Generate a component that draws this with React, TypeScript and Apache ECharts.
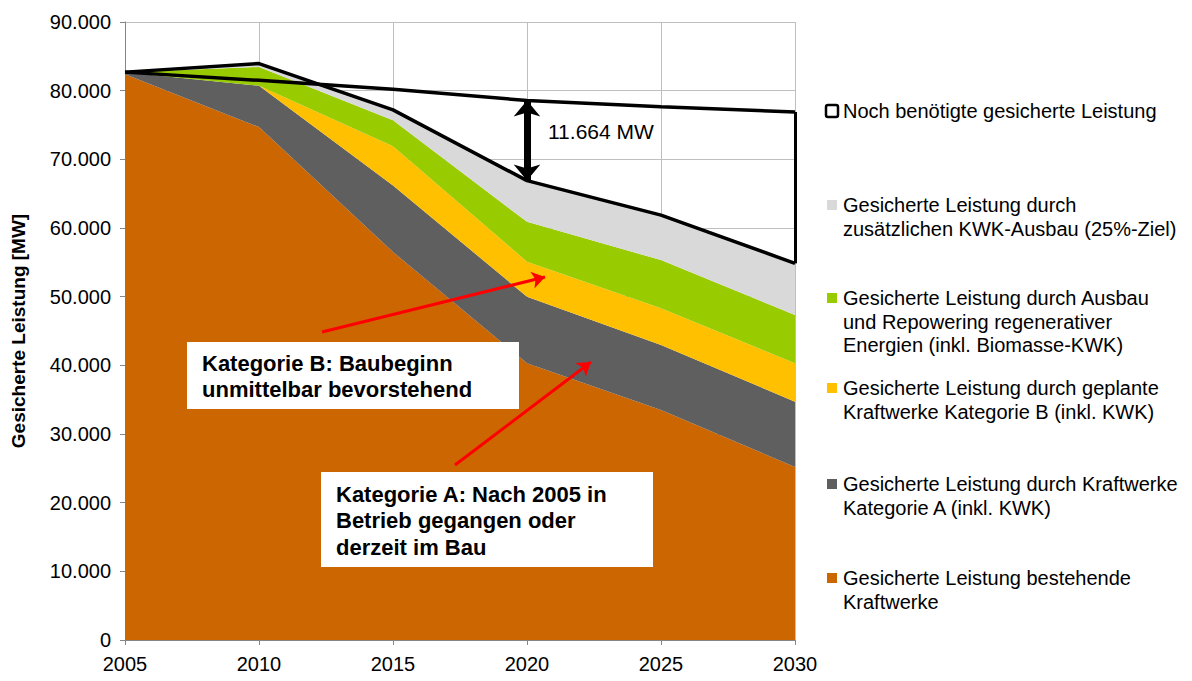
import React, { useEffect, useRef } from "react";
import * as echarts from "echarts";

const years = ["2005", "2010", "2015", "2020", "2025", "2030"];
const bestehende = [82400, 74700, 56500, 40300, 33500, 25200];
const kategorieA = [300, 6000, 9700, 9700, 9450, 9500];
const kategorieB = [0, 0, 5700, 5100, 5350, 5600];
const regenerativ = [0, 2750, 3800, 5800, 7030, 7030];
const kwk = [0, 500, 1500, 6000, 6550, 7520];
const bedarf = [82700, 81500, 80200, 78564, 77650, 76900];
const yMin = 0;
const yMax = 90000;
const yStep = 10000;
const luecke2020 = "11.664 MW";

const nameNoch = "Noch benötigte gesicherte Leistung";
const nameKwk = "Gesicherte Leistung durch\nzusätzlichen KWK-Ausbau (25%-Ziel)";
const nameReg = "Gesicherte Leistung durch Ausbau\nund Repowering regenerativer\nEnergien (inkl. Biomasse-KWK)";
const nameB = "Gesicherte Leistung durch geplante\nKraftwerke Kategorie B (inkl. KWK)";
const nameA = "Gesicherte Leistung durch Kraftwerke\nKategorie A (inkl. KWK)";
const nameBest = "Gesicherte Leistung bestehende\nKraftwerke";

const boxBText = "Kategorie B: Baubeginn\nunmittelbar bevorstehend";
const boxAText = "Kategorie A: Nach 2005 in\nBetrieb gegangen oder\nderzeit im Bau";

const FONT = '"Liberation Sans", Arial, Helvetica, sans-serif';

const C_ORANGE = "#CC6600";
const C_DGRAY = "#5F5F5F";
const C_YELLOW = "#FFC000";
const C_GREEN = "#99CC00";
const C_LGRAY = "#D9D9D9";

export default function App() {
  const ref = useRef<HTMLDivElement>(null);

  useEffect(() => {
    if (!ref.current) return;
    const chart = echarts.init(ref.current, undefined, { renderer: "svg" });

    const total = years.map(
      (_, i) => bestehende[i] + kategorieA[i] + kategorieB[i] + regenerativ[i] + kwk[i]
    );
    const last = years.length - 1;
    const idx2020 = years.indexOf("2020");

    const area = (name: string, data: number[], color: string) => ({
      name,
      type: "line",
      stack: "leistung",
      data,
      symbol: "none",
      lineStyle: { width: 0, color },
      itemStyle: { color },
      areaStyle: { color, opacity: 1 },
      z: 2,
      silent: true,
    });

    const legendItems = [
      { name: nameNoch, color: "#fff", top: 111, outline: true },
      { name: nameKwk, color: C_LGRAY, top: 205 },
      { name: nameReg, color: C_GREEN, top: 298 },
      { name: nameB, color: C_YELLOW, top: 388 },
      { name: nameA, color: C_DGRAY, top: 484 },
      { name: nameBest, color: C_ORANGE, top: 578 },
    ];

    const legendGraphics: any[] = [];
    legendItems.forEach((it: any) => {
      legendGraphics.push(
        it.outline
          ? {
              type: "rect",
              shape: { x: 826, y: it.top - 6, width: 12, height: 12, r: 2 },
              style: { fill: "#fff", stroke: "#000", lineWidth: 2.5 },
            }
          : {
              type: "rect",
              shape: { x: 827, y: it.top - 5, width: 10, height: 10 },
              style: { fill: it.color },
            }
      );
      legendGraphics.push({
        type: "text",
        x: 843,
        y: it.top - 11.75,
        style: {
          text: it.name,
          font: `20px ${FONT}`,
          lineHeight: 23.5,
          fill: "#000",
          verticalAlign: "top",
          align: "left",
        },
      });
    });

    const option: any = {
      animation: false,
      backgroundColor: "#fff",
      textStyle: { fontFamily: FONT },
      grid: {
        left: 125,
        right: 397,
        top: 22,
        bottom: 41,
        containLabel: false,
        outerBoundsMode: "none",
      },
      xAxis: {
        type: "category",
        data: years,
        boundaryGap: false,
        axisLine: { show: true, lineStyle: { color: "#868686", width: 1 } },
        axisTick: { show: true, length: 5, lineStyle: { color: "#868686" } },
        axisLabel: { color: "#000", fontSize: 20, margin: 14, fontFamily: FONT },
        splitLine: { show: true, lineStyle: { color: "#BFBFBF", width: 1 } },
      },
      yAxis: {
        type: "value",
        min: yMin,
        max: yMax,
        interval: yStep,
        name: "Gesicherte Leistung [MW]",
        nameLocation: "middle",
        nameRotate: 90,
        nameGap: 97,
        nameTextStyle: { color: "#000", fontSize: 19, fontWeight: "bold", fontFamily: FONT },
        axisLine: { show: true, lineStyle: { color: "#868686", width: 1 } },
        axisTick: { show: true, length: 5, lineStyle: { color: "#868686" } },
        axisLabel: {
          color: "#000",
          fontSize: 20,
          margin: 14,
          fontFamily: FONT,
          formatter: (v: number) => (v === 0 ? "0" : v.toLocaleString("de-DE")),
        },
        splitLine: { show: true, lineStyle: { color: "#BFBFBF", width: 1 } },
      },
      series: [
        area(nameBest, bestehende, C_ORANGE),
        area(nameA, kategorieA, C_DGRAY),
        area(nameB, kategorieB, C_YELLOW),
        area(nameReg, regenerativ, C_GREEN),
        area(nameKwk, kwk, C_LGRAY),
        {
          name: "Summe",
          type: "line",
          data: total,
          symbol: "none",
          lineStyle: { color: "#000", width: 3.5 },
          z: 5,
          silent: true,
          markLine: {
            silent: true,
            symbol: ["arrow", "arrow"],
            symbolSize: [20, 16],
            label: { show: false },
            lineStyle: { color: "#000", width: 7, type: "solid" },
            data: [
              [
                { coord: [idx2020, total[idx2020]] },
                { coord: [idx2020, bedarf[idx2020]] },
              ],
            ],
          },
        },
        {
          name: nameNoch,
          type: "line",
          data: bedarf,
          symbol: "none",
          lineStyle: { color: "#000", width: 3.5 },
          z: 6,
          silent: true,
          markLine: {
            silent: true,
            symbol: ["none", "none"],
            label: { show: false },
            lineStyle: { color: "#000", width: 3, type: "solid" },
            data: [
              [
                { coord: [last, total[last]] },
                { coord: [last, bedarf[last]] },
              ],
            ],
          },
        },
        {
          name: "Pfeile",
          type: "line",
          data: [],
          z: 7,
          silent: true,
          markLine: {
            silent: true,
            symbol: ["none", "arrow"],
            symbolSize: 13,
            label: { show: false },
            lineStyle: { color: "#FF0000", width: 3, type: "solid" },
            data: [
              [{ x: 322, y: 332 }, { x: 545, y: 277 }],
              [{ x: 455, y: 465 }, { x: 591, y: 362 }],
            ],
          },
        },
      ],
      graphic: [
        ...legendGraphics,
        {
          type: "text",
          x: 548,
          y: 131,
          z: 50,
          style: {
            text: luecke2020,
            font: `21px ${FONT}`,
            fill: "#000",
            verticalAlign: "middle",
          },
        },
        {
          type: "rect",
          z: 50,
          shape: { x: 187, y: 342, width: 332, height: 67 },
          style: { fill: "#fff" },
        },
        {
          type: "text",
          z: 51,
          x: 202,
          y: 363 - 13.3,
          style: {
            text: boxBText,
            font: `bold 22px ${FONT}`,
            lineHeight: 26.7,
            fill: "#000",
            verticalAlign: "top",
          },
        },
        {
          type: "rect",
          z: 50,
          shape: { x: 321, y: 472, width: 332, height: 95 },
          style: { fill: "#fff" },
        },
        {
          type: "text",
          z: 51,
          x: 336,
          y: 494 - 13.25,
          style: {
            text: boxAText,
            font: `bold 22px ${FONT}`,
            lineHeight: 26.5,
            fill: "#000",
            verticalAlign: "top",
          },
        },
      ],
    };

    chart.setOption(option);
    return () => chart.dispose();
  }, []);

  return (
    <div
      ref={ref}
      style={{ position: "fixed", left: 0, top: 0, width: 1192, height: 681, background: "#fff" }}
    />
  );
}
